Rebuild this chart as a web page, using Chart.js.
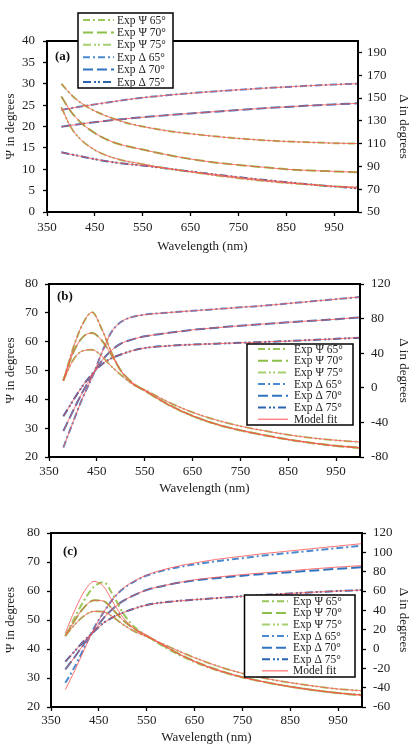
<!DOCTYPE html>
<html><head><meta charset="utf-8">
<script src="https://cdn.jsdelivr.net/npm/chart.js@4.4.0/dist/chart.umd.min.js"></script>
<style>
html,body{margin:0;padding:0;background:#fff;overflow:hidden}
#wrap{position:relative;width:411px;height:745px}
canvas{position:absolute;left:0}
</style></head><body><div id="wrap">
<canvas id="ca" width="411" height="254" style="top:0px"></canvas>
<canvas id="cb" width="411" height="246" style="top:250px"></canvas>
<canvas id="cc" width="411" height="250" style="top:495px"></canvas>
</div>
<script>
// ---------- DATA ----------
const wavelengths = [380,400,420,440,460,480,500,525,550,600,650,700,750,800,850,900,950,1000];
const xTicks = [350,450,550,650,750,850,950];
const expLabels = ['Exp Ψ 65°','Exp Ψ 70°','Exp Ψ 75°','Exp Δ 65°','Exp Δ 70°','Exp Δ 75°'];
const fitLabel = 'Model fit';

// panel (a)
const psiTicksA = [0,5,10,15,20,25,30,35,40];
const deltaTicksA = [50,70,90,110,130,150,170,190];
const psi65A = [30,27.5,25.6,24.2,23.1,22.2,21.4,20.6,20.0,19.0,18.3,17.7,17.2,16.8,16.5,16.3,16.1,16.0];
const psi70A = [27,23.5,21.0,19.2,17.8,16.7,15.9,15.2,14.6,13.4,12.4,11.6,11.0,10.5,10.0,9.7,9.5,9.3];
const psi75A = [24.5,19.8,17.0,15.2,13.9,13.0,12.3,11.7,11.2,10.2,9.4,8.6,7.9,7.3,6.8,6.4,6.0,5.8];
const delta65A = [139.5,141,142.5,143.8,145,146.3,147.5,149,150.3,152.4,154.2,155.8,157.2,158.5,159.7,160.8,161.8,162.6];
const delta70A = [124.8,126,127.2,128.3,129.3,130.3,131.2,132.2,133.1,134.9,136.5,138,139.5,140.9,142.2,143.4,144.4,145.3];
const delta75A = [102.4,100.6,98.9,97.2,95.6,94.2,93,91.8,90.8,88.2,85.5,83,80.6,78.3,76.2,74.2,72.4,70.8];

// panel (b)
const psiTicksB = [20,30,40,50,60,70,80];
const deltaTicksB = [-80,-40,0,40,80,120];
const psi65B = [46.5,57.5,66,70.2,64.5,56.5,50,45.5,43,38,34.2,31.3,29.2,27.5,26,24.8,23.8,23.1];
const psi70B = [46.5,56,61.5,63,60.5,55.5,50,45.7,43,38.2,34.3,31.4,29.3,27.6,26.1,24.9,23.9,23.3];
const psi75B = [46.5,53.5,56.8,57.2,55,51.5,48.5,45.2,43.3,39,35.5,32.8,30.7,29.1,27.7,26.6,25.8,25.2];
const delta65B = [-69,-40,-12,12,40,64,76,82,84.5,87,89,91,93,95,97.5,100,102.5,105];
const delta70B = [-50,-27,-5,14,31,43,51,56,59.5,63.5,67,69.5,71.8,73.8,75.7,77.5,79.3,81.5];
const delta75B = [-33,-15,2,16,27,34,38.5,43,46,48.5,50,51,52,53,54,55.3,56.6,58];

// panel (c)
const psiTicksC = [20,30,40,50,60,70,80];
const deltaTicksC = [-60,-40,-20,0,20,40,60,80,100,120];
const psi65C = [44.5,51,57,61.5,63,58.5,52.5,47.5,44.5,39.5,35.5,32.5,30.2,28.5,27,25.8,24.8,24.2];
const psi70C = [44.5,50,54.5,56.8,56.5,53.5,50,46.8,44.5,39.8,35.8,32.7,30.3,28.5,27,25.8,24.8,24.0];
const psi75C = [44.5,48.5,51.5,53,52.8,51,48.5,46,44.3,40.5,37,34,31.6,29.8,28.4,27.2,26.2,25.6];
const delta65C = [-35,-18,2,22,38,52,62,70,76,83,87.5,91,94,97,99.5,102,104.5,107];
const delta70C = [-21,-8,6,19,32,42,49.5,56,61,67,71,73.5,75.8,77.8,79.5,81.2,83,84.5];
const delta75C = [-13,-2,9,18,27,33,37.5,42,45.5,49,51,52.8,54.5,56,57.5,58.8,60,61];
const fitPsi65C = [45.5,53.5,60,63.3,61.5,56,51,47,44.8,39.8,35.6,32.5,30.2,28.5,27,25.8,24.8,24.2];
const fitDelta65C = [-42,-22,0,21,38,52,62.5,70.5,76.5,84,89,93,96,99,101.5,104,106.5,109];
const fitDelta70C = [-21,-8,6,19,32,42,49.5,56,61,67,71.5,74.5,77,79,81,83,84.8,86.3];

// ---------- STYLE ----------
const FONT = "'Liberation Serif','Times New Roman',serif";
const COLORS = ['#9bc75a','#8cc04a','#a6d06e','#4a8ad0','#2f74bf','#2a64ad'];
const DASHES = [[7,3,2,3],[10,4],[8,3,2,2,2,3],[7,3,2,3],[10,4],[8,3,2,2,2,3]];
const FIT_COLOR = '#ff5050';

const framePlugin = {
  id:'frame',
  afterDatasetsDraw(chart){
    const {ctx, chartArea:a} = chart;
    ctx.save(); ctx.strokeStyle='#000'; ctx.lineWidth=2;
    ctx.strokeRect(a.left, a.top, a.right-a.left, a.bottom-a.top);
    ctx.restore();
  }
};
const legendPlugin = {
  id:'customLegend',
  afterDraw(chart, args, o){
    const ctx = chart.ctx;
    ctx.save();
    ctx.fillStyle='#fff';
    ctx.fillRect(o.x, o.y, o.w, o.h);
    ctx.strokeStyle='#000'; ctx.lineWidth=1.5;
    ctx.strokeRect(o.x, o.y, o.w, o.h);
    ctx.font = o.size + 'px ' + FONT;
    ctx.textBaseline='middle'; ctx.textAlign='left';
    o.items.forEach((it,i)=>{
      const y = o.row0 + i*o.step;
      ctx.beginPath();
      ctx.strokeStyle = it.color; ctx.lineWidth = it.width; ctx.setLineDash(it.dash);
      ctx.moveTo(o.s0, y); ctx.lineTo(o.s1, y); ctx.stroke();
      ctx.setLineDash([]);
      ctx.fillStyle='#222';
      ctx.fillText(it.label, o.tx, y+0.5);
    });
    ctx.font = 'bold 13px ' + FONT;
    ctx.fillStyle='#111';
    ctx.fillText(o.panel, o.px, o.py);
    ctx.restore();
  }
};

function build(id, P){
  const canvas = document.getElementById(id);
  const H = canvas.height, W = 411;
  const datasets = [];
  P.exp.forEach((vals,i)=>{
    datasets.push({label:expLabels[i], data:wavelengths.map((x,j)=>({x, y:vals[j]})),
      yAxisID: i<3?'yL':'yR', borderColor:COLORS[i], borderWidth:2, borderDash:DASHES[i],
      pointRadius:0, fill:false, cubicInterpolationMode:'monotone', order:2});
  });
  P.fit.forEach((vals,i)=>{
    datasets.push({label:fitLabel, data:wavelengths.map((x,j)=>({x, y:vals[j]})),
      yAxisID: i<3?'yL':'yR', borderColor:FIT_COLOR, borderWidth:0.8,
      pointRadius:0, fill:false, cubicInterpolationMode:'monotone', order:1});
  });
  const tickFont = {family:FONT, size:13};
  const gridCfg = {display:true, drawOnChartArea:false, drawTicks:true, tickLength:4, tickWidth:1.3, tickColor:'#000'};
  const items = expLabels.map((l,i)=>({label:l, color:COLORS[i], dash:DASHES[i], width:2}));
  if (P.legend.fit) items.push({label:fitLabel, color:FIT_COLOR, dash:[], width:1});
  new Chart(canvas, {
    type:'line',
    data:{datasets},
    options:{
      responsive:false, animation:false, devicePixelRatio:1,
      layout:{padding:{top:P.t - P.top, left:0, right:0, bottom:0}},
      plugins:{legend:{display:false}, tooltip:{enabled:false},
        customLegend:Object.assign({items}, P.legend)},
      scales:{
        x:{type:'linear', min:350, max:1000,
          afterBuildTicks:s=>{s.ticks = xTicks.map(v=>({value:v}));},
          afterFit:s=>{s.height = H - (P.b - P.top);},
          grid:gridCfg, border:{display:false},
          ticks:{font:tickFont, color:'#222', padding:P.xpad, maxRotation:0},
          title:{display:true, text:'Wavelength (nm)', font:{family:FONT,size:13}, color:'#222', padding:0}},
        yL:{type:'linear', position:'left', min:P.psiTicks[0], max:P.psiTicks[P.psiTicks.length-1],
          afterBuildTicks:s=>{s.ticks = P.psiTicks.map(v=>({value:v}));},
          afterFit:s=>{s.width = P.l;},
          grid:gridCfg, border:{display:false},
          ticks:{font:tickFont, color:'#222', padding:P.lpad},
          title:{display:true, text:'Ψ in degrees', font:{family:FONT,size:13}, color:'#222', padding:{top:3,bottom:0}}},
        yR:{type:'linear', position:'right', min:P.dRange[0], max:P.dRange[1],
          afterBuildTicks:s=>{s.ticks = P.deltaTicks.map(v=>({value:v}));},
          afterFit:s=>{s.width = W - P.r;},
          grid:gridCfg, border:{display:false},
          ticks:{font:tickFont, color:'#222', padding:P.rpad},
          title:{display:true, text:'Δ in degrees', font:{family:FONT,size:13}, color:'#222', padding:{top:0,bottom:0}}}
      }
    },
    plugins:[framePlugin, legendPlugin]
  });
}

build('ca', {top:0, l:47, r:358, t:41, b:212, xpad:4, lpad:8, rpad:5,
  psiTicks:psiTicksA, deltaTicks:deltaTicksA, dRange:[50,200],
  exp:[psi65A,psi70A,psi75A,delta65A,delta70A,delta75A],
  fit:[psi65A,psi70A,psi75A,delta65A,delta70A,delta75A],
  legend:{fit:false, x:78, y:13, w:95, h:75, row0:20, step:12.4, s0:83, s1:114, tx:117, size:11.5, panel:'(a)', px:55, py:57}});

build('cb', {top:250, l:49, r:360, t:284, b:457, xpad:3, lpad:7, rpad:7,
  psiTicks:psiTicksB, deltaTicks:deltaTicksB, dRange:[-80,120],
  exp:[psi65B,psi70B,psi75B,delta65B,delta70B,delta75B],
  fit:[psi65B,psi70B,psi75B,delta65B,delta70B,delta75B],
  legend:{fit:true, x:247, y:94, w:106, h:81, row0:99, step:11.7, s0:258, s1:288, tx:294, size:11.5, panel:'(b)', px:57, py:47}});

build('cc', {top:495, l:51, r:362, t:533, b:707, xpad:2, lpad:7, rpad:7,
  psiTicks:psiTicksC, deltaTicks:deltaTicksC, dRange:[-60,120],
  exp:[psi65C,psi70C,psi75C,delta65C,delta70C,delta75C],
  fit:[fitPsi65C,psi70C,psi75C,fitDelta65C,fitDelta70C,delta75C],
  legend:{fit:true, x:244.5, y:100, w:110.5, h:82, row0:106.3, step:11.6, s0:262, s1:288, tx:293, size:11.5, panel:'(c)', px:63, py:57}});
</script>
</body></html>
